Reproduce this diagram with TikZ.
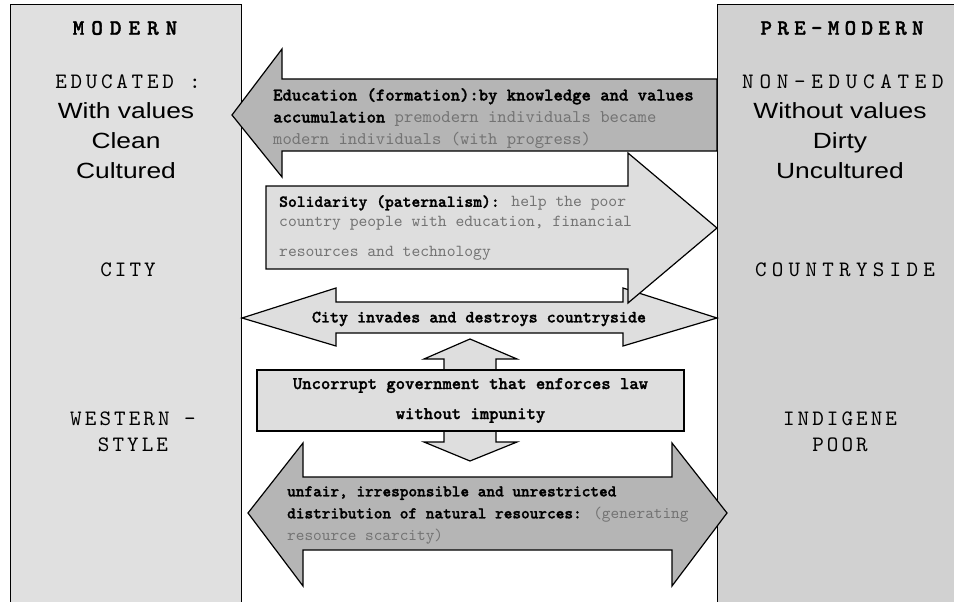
\documentclass[tikz,border=0pt]{standalone}
\usepackage{fontspec}
\newfontfamily\traitfont[FakeStretch=1.2]{Liberation Sans}
\newfontfamily\lmmono{lmmono10-regular}[Extension=.otf,
  BoldFont=lmmonolt10-bold, BoldFeatures={FakeBold=1.5}]

\definecolor{modernfill}{gray}{0.88}
\definecolor{premodfill}{gray}{0.82}
\definecolor{arrowlight}{gray}{0.87}
\definecolor{arrowdark}{gray}{0.71}
\definecolor{notegray}{gray}{0.45}

\newcommand{\faded}[1]{\textcolor{notegray}{#1}}
\newcommand{\spaced}[1]{\addfontfeature{LetterSpace=#1}}

\tikzset{
  column/.style={draw, line width=0.8pt},
  blockdark/.style={draw, line width=1.2pt, fill=arrowdark},
  blocklight/.style={draw, line width=1.2pt, fill=arrowlight},
  colhead/.style={font=\lmmono\bfseries\fontsize{22}{26}\selectfont\spaced{32}},
  collabel/.style={font=\lmmono\fontsize{22}{26}\selectfont\spaced{14}, align=center},
  widelabel/.style={font=\lmmono\fontsize{22}{26}\selectfont\spaced{26}, align=center},
  traits/.style={font=\traitfont\fontsize{22}{30}\selectfont, align=center},
  note/.style={align=left, anchor=north west, inner sep=0pt},
  govbox/.style={draw, line width=1.2pt, fill=arrowlight, inner sep=0pt,
    minimum width=427pt, minimum height=61pt, align=center,
    font=\lmmono\bfseries\fontsize{17.8}{30}\selectfont},
}

\begin{document}
\begin{tikzpicture}[x=1pt, y=-1pt]
    \useasboundingbox (0,0) rectangle (954,602);

    % the two columns
    \draw[column, fill=modernfill] (10,612) -- (10,4) -- (241,4) -- (241,612);
    \draw[column, fill=premodfill] (717,612) -- (717,4) -- (964,4) -- (964,612);

    \node[colhead] (modern) at (125,28) {MODERN};
    \node[collabel, font=\lmmono\fontsize{22}{26}\selectfont\spaced{17}] (educated) at (128,82) {EDUCATED :};
    \node[traits] (modtraits) at (126,141) {With values\\Clean\\Cultured};
    \node[collabel] (city) at (128,270) {CITY};
    \node[collabel] (western) at (133,432) {WESTERN -\\STYLE};

    \node[colhead, font=\lmmono\bfseries\fontsize{22}{26}\selectfont\spaced{24}] (premodern) at (842,28) {PRE-MODERN};
    \node[widelabel] (noneducated) at (843,82) {NON-EDUCATED};
    \node[traits] (pretraits) at (840,141) {Without values\\Dirty\\Uncultured};
    \node[widelabel, font=\lmmono\fontsize{22}{26}\selectfont\spaced{24}] (countryside) at (845,270) {COUNTRYSIDE};
    \node[collabel] (indigene) at (840,432) {INDIGENE\\POOR};

    % block arrows
    \draw[blockdark] (232,115) -- (282,49) -- (282,79) -- (717,79)
      -- (717,151) -- (282,151) -- (282,177) -- cycle;

    \draw[blocklight] (242,318) -- (336,288) -- (336,302) -- (623,302)
      -- (623,288) -- (717,318) -- (623,346) -- (623,333) -- (336,333)
      -- (336,346) -- cycle;

    \draw[blocklight] (717,228) -- (628,153) -- (628,186) -- (266,186)
      -- (266,269) -- (628,269) -- (628,303) -- cycle;

    \draw[blocklight] (470,339) -- (517,359) -- (496,359) -- (496,442)
      -- (517,442) -- (470,461) -- (424,442) -- (444,442) -- (444,359)
      -- (424,359) -- cycle;

    \draw[blockdark] (248,513) -- (303,443) -- (303,477) -- (672,477)
      -- (672,443) -- (727,513) -- (672,586) -- (672,550) -- (303,550)
      -- (303,586) -- cycle;

    % texts on the arrows
    \node[note, font=\lmmono\fontsize{17.8}{22}\selectfont] (education) at (273,88)
      {\textbf{Education (formation):by knowledge and values}\\
      \textbf{accumulation} \faded{premodern individuals became}\\
      \faded{modern individuals (with progress)}};
    \node[note, font=\lmmono\fontsize{16.8}{20}\selectfont] (solidarity) at (279,195)
      {\textbf{Solidarity (paternalism):} \faded{help the poor}\\
      \faded{country people with education, financial}\\[10pt]
      \faded{resources and technology}};
    \node[font=\lmmono\bfseries\fontsize{17.2}{18}\selectfont] (invasion) at (479,319)
      {City invades and destroys countryside};
    \node[govbox] (govt) at (470.5,400.5) {Uncorrupt government that enforces law\\without impunity};
    \node[note, font=\lmmono\fontsize{16.5}{22}\selectfont] (resources) at (287,486)
      {\textbf{unfair, irresponsible and unrestricted}\\
      \textbf{distribution of natural resources:} \faded{(generating}\\
      \faded{resource scarcity)}};
  \end{tikzpicture}
\end{document}
